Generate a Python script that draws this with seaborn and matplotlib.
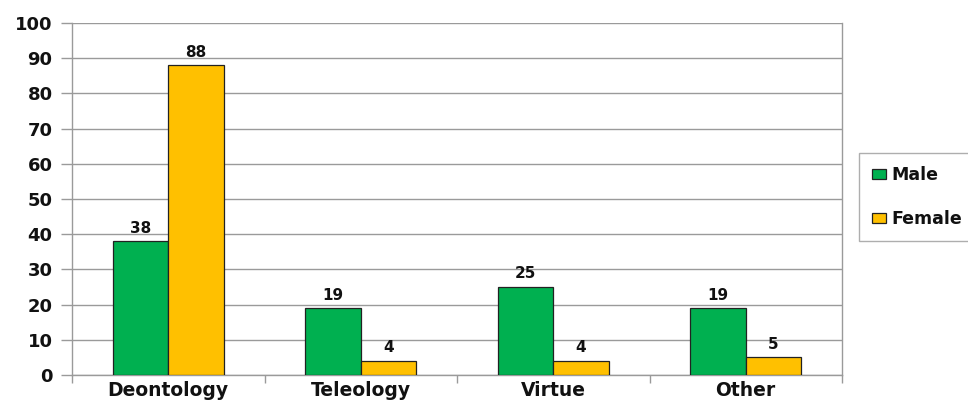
import matplotlib
matplotlib.use("Agg")
import matplotlib.pyplot as plt
import seaborn as sns
import pandas as pd
import numpy as np
from matplotlib.patches import Patch

# Survey results by ethical framework and sex
categories = ["Deontology", "Teleology", "Virtue", "Other"]
male = [38, 19, 25, 19]
female = [88, 4, 4, 5]
series_names = ["Male", "Female"]
y_ticks = [0, 10, 20, 30, 40, 50, 60, 70, 80, 90, 100]

df = pd.DataFrame({
    "category": categories * 2,
    "sex": [series_names[0]] * len(categories) + [series_names[1]] * len(categories),
    "value": male + female,
})

sns.set_theme(style="white")
plt.rcParams["font.family"] = ["DejaVu Sans"]
plt.rcParams["font.weight"] = "bold"

colors = {"Male": "#00B050", "Female": "#FFC000"}

fig = plt.figure(figsize=(9.68, 4.05), dpi=100)
ax = fig.add_axes([72 / 968, 30 / 405, (842 - 72) / 968, (375 - 23) / 405])

sns.barplot(data=df, x="category", y="value", hue="sex", order=categories,
            hue_order=series_names, palette=colors, width=0.577,
            edgecolor="#222222", linewidth=0.9, saturation=1, ax=ax,
            legend=False, zorder=3)

for cont in ax.containers:
    ax.bar_label(cont, fmt="%d", padding=4, fontsize=11, fontweight="bold",
                 color="#111111")

ax.set_ylim(0, 100)
ax.set_yticks(y_ticks)
ax.set_xlim(-0.5, len(categories) - 0.5)
ax.yaxis.grid(True, color="#9a9a9a", linewidth=1.0, zorder=0)
ax.xaxis.grid(False)
ax.set_axisbelow(True)

for side in ["left", "right", "top", "bottom"]:
    ax.spines[side].set_color("#9a9a9a")
    ax.spines[side].set_linewidth(1.0)
ax.spines["top"].set_visible(False)

ax.set_xlabel("")
ax.set_ylabel("")
ax.tick_params(axis="y", which="major", length=8, width=1, color="#9a9a9a",
               left=True, labelsize=13, pad=6)
ax.tick_params(axis="x", which="major", length=0, labelsize=13.5, pad=4)
ax.set_xticks(np.arange(-0.5, len(categories), 1.0), minor=True)
ax.tick_params(axis="x", which="minor", length=6, width=1, color="#9a9a9a",
               bottom=True)
for lab in ax.get_xticklabels() + ax.get_yticklabels():
    lab.set_fontweight("bold")
    lab.set_color("#111111")

handles = [Patch(facecolor=colors[s], edgecolor="#222222", linewidth=0.9)
           for s in series_names]
leg = fig.legend(handles, series_names, loc="upper left",
                 bbox_to_anchor=(859 / 968, 1 - 153 / 405),
                 borderaxespad=0, frameon=True, fancybox=False,
                 handlelength=0.8, handleheight=0.55, handletextpad=0.3,
                 labelspacing=1.5, borderpad=0.75,
                 prop={"size": 12.5, "weight": "bold"})
for t in leg.get_texts():
    t.set_color("#111111")
leg.get_frame().set_edgecolor("#9a9a9a")
leg.get_frame().set_linewidth(1.0)
leg.get_frame().set_facecolor("white")

fig.savefig("out.png", dpi=100)
